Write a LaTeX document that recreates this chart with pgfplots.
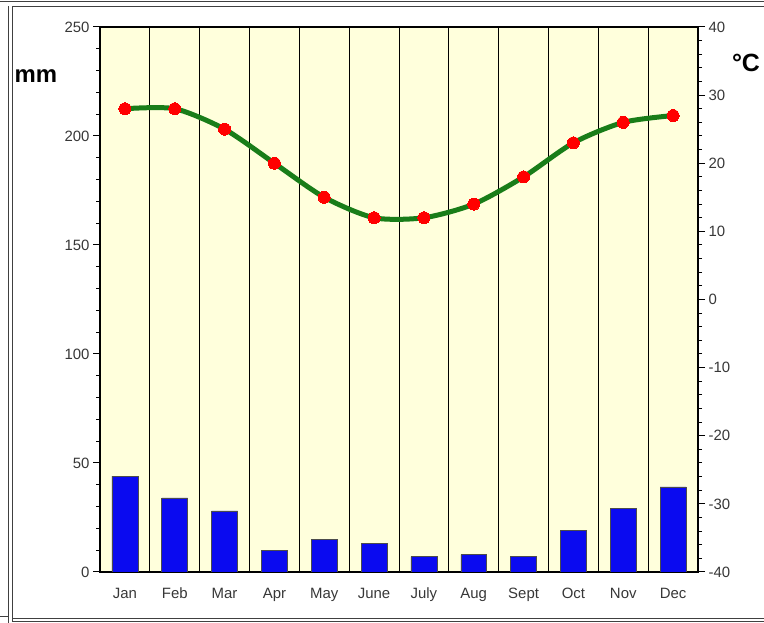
\documentclass[border=0pt]{standalone}
\usepackage{pgfplots}
\pgfplotsset{compat=1.18}
\usepackage{fontspec}
\setmainfont{Liberation Sans}
\definecolor{bgy}{RGB}{255,255,220}
\definecolor{lgreen}{RGB}{25,125,25}
\definecolor{tickgray}{RGB}{55,55,55}
\definecolor{bblue}{RGB}{10,10,240}
\begin{document}
\begin{tikzpicture}[x=1bp,y=1bp]
\path[use as bounding box] (0,0) rectangle (764,623);
% frame lines
\draw[line width=1bp, black!75] (0,621) -- (764,621);
\draw[line width=1bp, black!75] (12,616.5) -- (764,616.5);
\draw[line width=1bp, black!75] (8,0) -- (8,616.5);
\draw[line width=1bp, black!75] (12,1) -- (12,616.5);
\draw[line width=1bp, black!75] (0,6) -- (8,6);
\draw[line width=1bp, black!75] (12,4) -- (764,4);
\draw[line width=1bp, black!75] (12,1) -- (764,1);
\begin{axis}[
  at={(100bp,51bp)}, anchor=south west,
  scale only axis, width=598bp, height=545bp,
  xmin=-0.5, xmax=11.5, ymin=0, ymax=250,
  axis background/.style={fill=bgy},
  xtick={0,...,11},
  xticklabels={Jan,Feb,Mar,Apr,May,June,July,Aug,Sept,Oct,Nov,Dec},
  xtick style={draw=none},
  extra x ticks={0.5,1.5,2.5,3.5,4.5,5.5,6.5,7.5,8.5,9.5,10.5},
  extra x tick labels={},
  extra x tick style={grid=major, major grid style={black, line width=0.9bp}},
  ytick={0,50,...,250}, minor y tick num=4, ytick pos=left,
  tick align=outside, major tick length=7bp, minor tick length=4bp,
  ytick style={black, line width=1bp},
  axis line style={line width=1.8bp},
  ticklabel style={font=\fontsize{15}{17}\selectfont, text=tickgray},
  /pgf/number format/assume math mode=true,
  xticklabel style={yshift=-5bp, text height=11bp, text depth=3.5bp},
]
\addplot[ybar, bar width=0.52, bar shift=0pt, fill=bblue, draw=black!70, line width=0.6bp]
  coordinates {(0,44) (1,34) (2,28) (3,10) (4,15) (5,13) (6,7) (7,8) (8,7) (9,19) (10,29) (11,39)};
\end{axis}
\begin{axis}[
  at={(100bp,51bp)}, anchor=south west,
  scale only axis, width=598bp, height=545bp,
  xmin=-0.5, xmax=11.5, ymin=-40, ymax=40,
  hide x axis, axis y line*=right,
  ytick={-40,-30,...,40}, minor y tick num=4,
  tick align=outside, major tick length=7bp, minor tick length=4bp,
  ytick style={black, line width=1bp},
  axis line style={line width=1.8bp},
  ticklabel style={font=\fontsize{15}{17}\selectfont, text=tickgray},
  /pgf/number format/assume math mode=true,
]
\addplot[lgreen, line width=5bp, smooth, tension=0.45, mark=*, mark size=6bp,
  mark options={fill=red, draw=red, line width=0pt}]
  coordinates {(0,28) (1,28) (2,25) (3,20) (4,15) (5,12) (6,12) (7,14) (8,18) (9,23) (10,26) (11,27)};
\end{axis}
\node[font=\fontsize{24}{28}\selectfont\bfseries] at (36,547) {mm};
\node[font=\fontsize{25}{28}\selectfont\bfseries] at (746,560) {°C};
\end{tikzpicture}
\end{document}
